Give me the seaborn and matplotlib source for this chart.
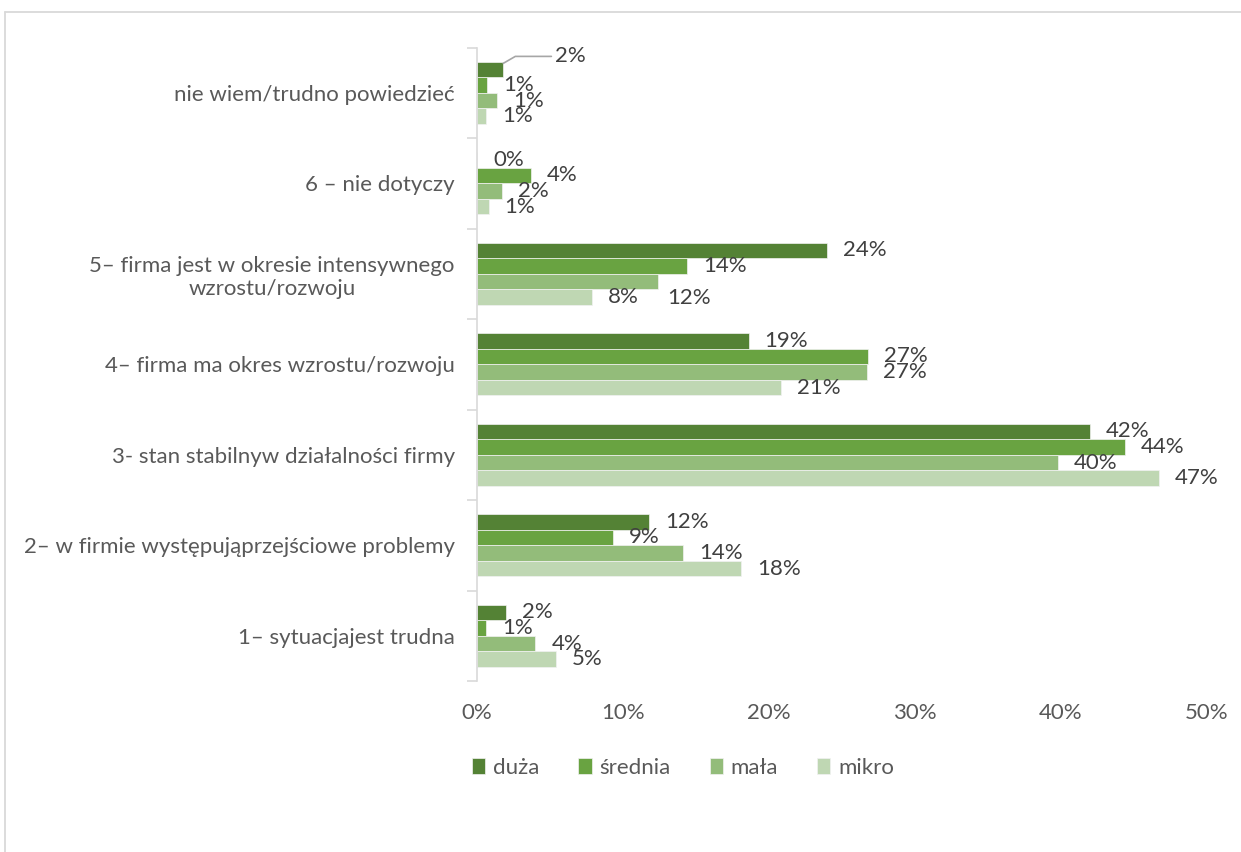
import numpy as np
import pandas as pd
import matplotlib
matplotlib.use("Agg")
import matplotlib.pyplot as plt
from matplotlib.lines import Line2D
from matplotlib.ticker import FuncFormatter
import seaborn as sns

# ---- data ----
categories = [
    "nie wiem/trudno powiedzieć",
    "6 – nie dotyczy",
    "5– firma jest w okresie intensywnego\nwzrostu/rozwoju",
    "4– firma ma okres wzrostu/rozwoju",
    "3- stan stabilnyw działalności firmy",
    "2– w firmie występująprzejściowe problemy",
    "1– sytuacjajest trudna",
]
series_names = ["duża", "średnia", "mała", "mikro"]
duza = [1.8, 0.0, 24.0, 18.6, 42.0, 11.8, 2.0]
srednia = [0.7, 3.7, 14.4, 26.8, 44.4, 9.3, 0.6]
mala = [1.4, 1.7, 12.4, 26.7, 39.8, 14.1, 4.0]
mikro = [0.6, 0.8, 7.9, 20.8, 46.7, 18.1, 5.4]
x_ticks = [0, 10, 20, 30, 40, 50]

colors = ["#548235", "#69A341", "#93BC7A", "#BFD7B3"]

sns.set_theme(style="white")
plt.rcParams["font.family"] = ["Lato", "DejaVu Sans"]
FS = 16

df = pd.DataFrame({
    "cat": categories * 4,
    "val": duza + srednia + mala + mikro,
    "size": sum([[s] * len(categories) for s in series_names], []),
})

fig = plt.figure(figsize=(12.41, 8.52), dpi=100)
ax = fig.add_axes([477 / 1241, 1 - 681 / 852, (1207 - 477) / 1241, (681 - 47.5) / 852])

sns.barplot(data=df, y="cat", x="val", hue="size", order=categories,
            hue_order=series_names, palette=colors, orient="h", width=0.69,
            saturation=1, edgecolor="#F2F2F2", linewidth=0.5, ax=ax, legend=True)

ax.set_xlim(0, 50)
ax.set_ylim(6.5, -0.5)
ax.set_xticks(x_ticks)
ax.xaxis.set_major_formatter(FuncFormatter(lambda v, p: f"{v:.0f}%"))
ax.set_xlabel("")
ax.set_ylabel("")
for s in ["top", "right", "bottom"]:
    ax.spines[s].set_visible(False)
ax.spines["left"].set_color("#D9D9D9")
ax.spines["left"].set_linewidth(1.2)
ax.set_yticks(np.arange(-0.5, len(categories), 1), minor=True)
ax.tick_params(axis="y", which="major", length=0, pad=16, labelsize=FS, labelcolor="#595959")
ax.tick_params(axis="y", which="minor", length=7, width=1.2, color="#D9D9D9", left=True)
ax.tick_params(axis="x", length=0, pad=16, labelsize=FS, labelcolor="#595959")
for t in ax.get_yticklabels():
    t.set_multialignment("center")

# data labels (offsets in points); special placements follow the reference
special = {(0, 0): "leader", (2, 2): (6.5, -11.5)}
for si, cont in enumerate(ax.containers):
    for ci, bar in enumerate(cont):
        v = bar.get_width()
        yc = bar.get_y() + bar.get_height() / 2
        txt = f"{v:.0f}%"
        key = (ci, si)
        if special.get(key) == "leader":
            ax.annotate(txt, xy=(v, bar.get_y() + 0.02), xytext=(37, 5),
                        textcoords="offset points", ha="left", va="center",
                        fontsize=FS, color="#404040",
                        arrowprops=dict(arrowstyle="-", color="#A6A6A6", lw=1.2,
                                        shrinkA=0, shrinkB=0,
                                        connectionstyle="angle,angleA=0,angleB=30,rad=0"))
            continue
        dx, dy = special.get(key, (11.5, 0))
        ax.annotate(txt, xy=(v, yc), xytext=(dx, dy), textcoords="offset points",
                    ha="left", va="center", fontsize=FS, color="#404040")

handles, labels = ax.get_legend_handles_labels()
ax.legend_.remove()
fig.legend(handles, labels, loc="center", bbox_to_anchor=(683 / 1241, 1 - 768 / 852),
           ncol=4, frameon=False, fontsize=FS, handlelength=0.6, handleheight=0.7,
           handletextpad=0.35, columnspacing=1.75, labelcolor="#595959")

# chart area border
fig.add_artist(Line2D([4.5 / 1241, 4.5 / 1241], [0, 1 - 11.5 / 852], transform=fig.transFigure,
                      color="#D9D9D9", lw=1.3))
fig.add_artist(Line2D([4.5 / 1241, 1], [1 - 11.5 / 852, 1 - 11.5 / 852], transform=fig.transFigure,
                      color="#D9D9D9", lw=1.3))

fig.savefig("out.png", dpi=100, facecolor="white")
